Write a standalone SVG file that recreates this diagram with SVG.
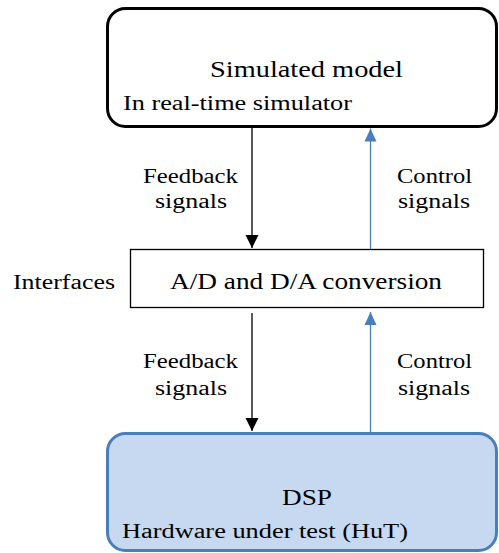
<svg xmlns="http://www.w3.org/2000/svg" width="499" height="553" viewBox="0 0 499 553">
<defs>
<style>
text{font-family:'Liberation Serif','Times New Roman',Times,'DejaVu Serif','Noto Serif',serif;fill:#000}
.big{font-size:23px}
.sm{font-size:20px}
.lbl{font-size:20px;text-anchor:middle}
</style>
<marker id="ab" markerUnits="userSpaceOnUse" markerWidth="14" markerHeight="14" viewBox="0 0 14 14" refX="13" refY="7" orient="auto">
<path d="M0,0.5 L13,7 L0,13.5 Z" fill="#000"/>
</marker>
<marker id="au" markerUnits="userSpaceOnUse" markerWidth="14" markerHeight="14" viewBox="0 0 14 14" refX="13" refY="7" orient="auto">
<path d="M0,1 L13,7 L0,13 Z" fill="#4a7ebb"/>
</marker>
</defs>
<rect width="499" height="553" fill="#fff"/>
<g id="sim">
<rect x="107.5" y="8.5" width="389" height="118" rx="18" fill="#fff" stroke="#000" stroke-width="3"/>
<text class="big" x="210" y="77" textLength="193" lengthAdjust="spacingAndGlyphs" font-family="Liberation Serif, serif">Simulated model</text>
<text class="sm" x="123" y="110" textLength="229" lengthAdjust="spacingAndGlyphs">In real-time simulator</text>
</g>
<g id="interfaces">
<rect x="130.5" y="249.5" width="353" height="58" fill="#fff" stroke="#000" stroke-width="1.3"/>
<text class="big" x="170" y="289" textLength="272" lengthAdjust="spacingAndGlyphs">A/D and D/A conversion</text>
<text class="sm" x="13" y="289" textLength="102" lengthAdjust="spacingAndGlyphs">Interfaces</text>
</g>
<g id="dsp">
<rect x="107.5" y="433.5" width="389" height="117" rx="18" fill="#c6d9f1" stroke="#4a7ebb" stroke-width="3"/>
<text class="big" x="282" y="505" textLength="50" lengthAdjust="spacingAndGlyphs">DSP</text>
<text class="sm" x="122" y="538" textLength="286" lengthAdjust="spacingAndGlyphs">Hardware under test (HuT)</text>
</g>
<g id="connectors">
<line x1="252" y1="128" x2="252" y2="248" stroke="#000" stroke-width="1.3" marker-end="url(#ab)"/>
<line x1="370.5" y1="249" x2="370.5" y2="128.5" stroke="#4a7ebb" stroke-width="1.3" marker-end="url(#au)"/>
<line x1="252" y1="313" x2="252" y2="431" stroke="#000" stroke-width="1.3" marker-end="url(#ab)"/>
<line x1="370.5" y1="432" x2="370.5" y2="312" stroke="#4a7ebb" stroke-width="1.3" marker-end="url(#au)"/>
<text class="lbl" x="190.5" y="183" textLength="95" lengthAdjust="spacingAndGlyphs">Feedback</text>
<text class="lbl" x="191" y="208" textLength="72" lengthAdjust="spacingAndGlyphs">signals</text>
<text class="lbl" x="434.5" y="183" textLength="75" lengthAdjust="spacingAndGlyphs">Control</text>
<text class="lbl" x="434" y="208" textLength="72" lengthAdjust="spacingAndGlyphs">signals</text>
<text class="lbl" x="190.5" y="368" textLength="95" lengthAdjust="spacingAndGlyphs">Feedback</text>
<text class="lbl" x="191" y="395" textLength="72" lengthAdjust="spacingAndGlyphs">signals</text>
<text class="lbl" x="434.5" y="368" textLength="75" lengthAdjust="spacingAndGlyphs">Control</text>
<text class="lbl" x="434" y="395" textLength="72" lengthAdjust="spacingAndGlyphs">signals</text>
</g>
</svg>
